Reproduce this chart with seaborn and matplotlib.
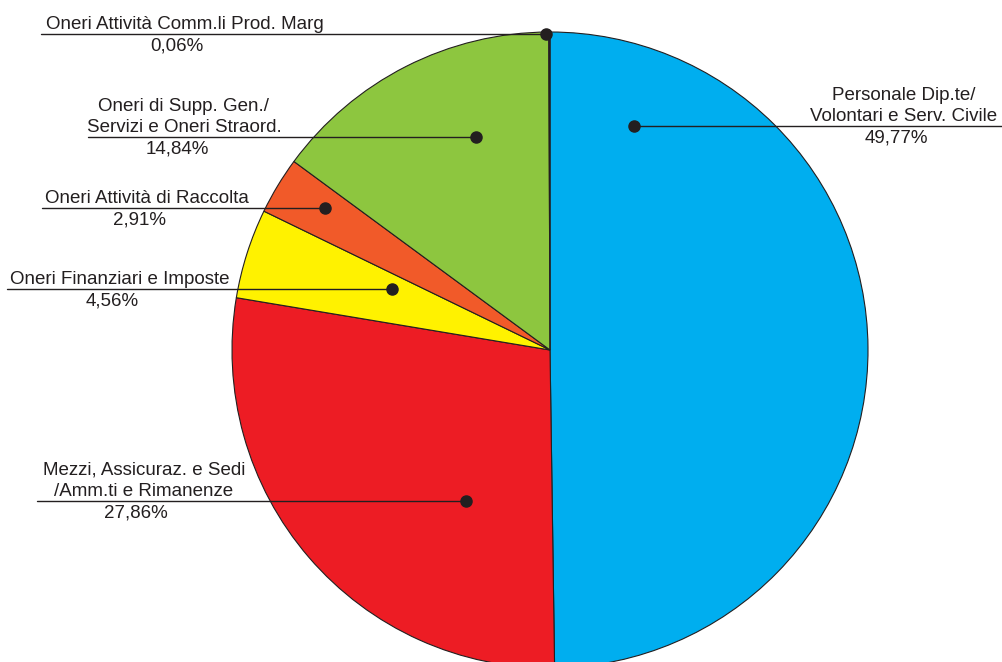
import numpy as np
import matplotlib
import matplotlib.pyplot as plt
import seaborn as sns

matplotlib.use("Agg")

# ─── Dati ─────────────────────────────────────────────────────────────────────
voci = [
    "Personale Dip.te/\nVolontari e Serv. Civile",
    "Mezzi, Assicuraz. e Sedi\n/Amm.ti e Rimanenze",
    "Oneri Finanziari e Imposte",
    "Oneri Attività di Raccolta",
    "Oneri di Supp. Gen./\nServizi e Oneri Straord.",
    "Oneri Attività Comm.li Prod. Marg",
]
percentuali = [49.77, 27.86, 4.56, 2.91, 14.84, 0.06]
etichette_pct = ["49,77%", "27,86%", "4,56%", "2,91%", "14,84%", "0,06%"]
colori = ["#00AEEF", "#ED1C24", "#FFF200", "#F15A29", "#8DC63F", "#7F3F98"]

# ─── Layout (pixel) ───────────────────────────────────────────────────────────
W, H = 1003, 662
CX, CY, R = 550, 350, 318
# punto del richiamo: angolo (gradi) e frazione del raggio
punti = [(69.4, 0.752), (240.9, 0.543), (158.9, 0.533),
         (147.7, 0.837), (109.2, 0.709), (90.7, 0.994)]
# centro testo, centro percentuale, estremo della linea
testo_x = [904, 144, 120, 147, 184, 185]
pct_x = [896, 136, 112, 140, 177, 177]
linea_x = [1003, 37, 7, 42, 88, 41]

sns.set_theme(style="white")
plt.rcParams["font.family"] = ["Liberation Sans", "DejaVu Sans"]

INK = "#231F20"

fig = plt.figure(figsize=(W / 100, H / 100), dpi=100)
ax = fig.add_axes([0, 0, 1, 1])

ax.pie(percentuali, colors=colori, startangle=90, counterclock=False,
       center=(CX, H - CY), radius=R, frame=True,
       wedgeprops=dict(edgecolor=INK, linewidth=0.8))

for i, (ang, fr) in enumerate(punti):
    px = CX + fr * R * np.cos(np.radians(ang))
    py = (H - CY) + fr * R * np.sin(np.radians(ang))
    ax.plot([linea_x[i], px], [py, py], color=INK, lw=1.0, zorder=5)
    ax.plot(px, py, "o", color=INK, ms=8, zorder=6)
    ax.text(testo_x[i], py + 5, voci[i], ha="center", va="baseline",
            multialignment="center", fontsize=13.5, color=INK,
            linespacing=1.3)
    ax.text(pct_x[i], py - 3.5, etichette_pct[i], ha="center", va="top",
            fontsize=13.5, color=INK)

ax.set_xlim(0, W)
ax.set_ylim(0, H)
ax.set_aspect("auto")
ax.axis("off")

fig.savefig("out.png", dpi=100)
plt.close(fig)
